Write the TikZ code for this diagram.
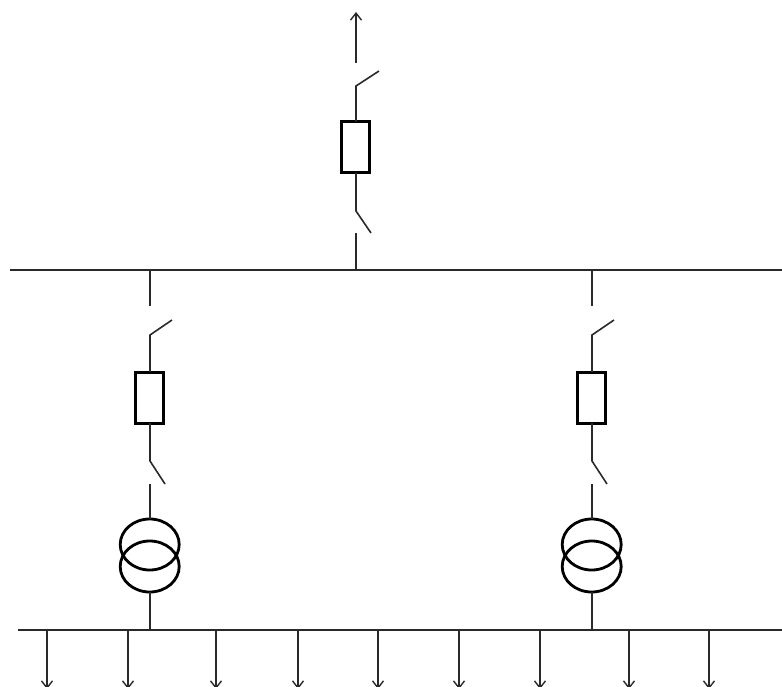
\documentclass[tikz,border=0pt]{standalone}
\usetikzlibrary{arrows.meta,shapes.geometric}
\definecolor{wire}{HTML}{2A2A2A}
\tikzset{
  x=1pt,y=-1pt,
  wireline/.style={draw=wire,line width=1.6pt},
  feeder/.style={wireline,-{Straight Barb[length=7pt,width=11pt,line width=1.4pt]}},
  breaker/.style={draw=black,line width=3pt,fill=white,rectangle,minimum width=28pt,minimum height=51pt,inner sep=0pt,outer sep=0pt},
  coil/.style={draw=black,line width=2.8pt,ellipse,minimum width=59pt,minimum height=51pt,inner sep=0pt,outer sep=0pt}
}
\begin{document}
\begin{tikzpicture}
\useasboundingbox (0,0) rectangle (782,686);
\clip (0,0) rectangle (782,686);
% busbars
\coordinate (busAw) at (10,270); \coordinate (busAe) at (782,270);
\coordinate (busBw) at (18,630); \coordinate (busBe) at (782,630);
\draw[wireline] (busAw) -- (busAe);
\draw[wireline] (busBw) -- (busBe);
% top feeder
\coordinate (tA) at (356,270); \coordinate (tB) at (356,233);
\coordinate (tC) at (356,211); \coordinate (tCb) at (371,233);
\coordinate (tD) at (356,86);  \coordinate (tDb) at (379,71);
\coordinate (tE) at (356,63);  \coordinate (tF) at (356,12);
\node[breaker] (brT) at (355.5,147) {};
\draw[wireline] (tA) -- (tB);
\draw[wireline] (tCb) -- (tC) -- (brT.south -| tC);
\draw[wireline] (brT.north -| tD) -- (tD) -- (tDb);
\draw[feeder] (tE) -- (tF);
% left bay
\coordinate (lA) at (150,270); \coordinate (lB) at (150,306);
\coordinate (lC) at (150,335); \coordinate (lCb) at (172,320);
\coordinate (lD) at (150,461); \coordinate (lDb) at (165,484);
\coordinate (lE) at (150,484); \coordinate (lF) at (150,630);
\node[breaker] (brL) at (149,397.5) {};
\node[coil] (coL1) at (149.7,544.5) {};
\node[coil] (coL2) at (149.7,566.5) {};
\draw[wireline] (lA) -- (lB);
\draw[wireline] (lCb) -- (lC) -- (brL.north -| lC);
\draw[wireline] (brL.south -| lD) -- (lD) -- (lDb);
\draw[wireline] (lE) -- (coL1.north -| lE);
\draw[wireline] (coL2.south -| lF) -- (lF);
% right bay
\coordinate (rA) at (592,270); \coordinate (rB) at (592,306);
\coordinate (rC) at (592,335); \coordinate (rCb) at (614,320);
\coordinate (rD) at (592,461); \coordinate (rDb) at (607,484);
\coordinate (rE) at (592,484); \coordinate (rF) at (592,630);
\node[breaker] (brR) at (591,397.5) {};
\node[coil] (coR1) at (591.7,544.5) {};
\node[coil] (coR2) at (591.7,566.5) {};
\draw[wireline] (rA) -- (rB);
\draw[wireline] (rCb) -- (rC) -- (brR.north -| rC);
\draw[wireline] (brR.south -| rD) -- (rD) -- (rDb);
\draw[wireline] (rE) -- (coR1.north -| rE);
\draw[wireline] (coR2.south -| rF) -- (rF);
% outgoing feeders
\foreach \n/\xx in {a/47,b/128,c/216,d/298,e/378,f/459,g/540,h/629,i/709}{
  \coordinate (o\n) at (\xx,630);
  \coordinate (p\n) at (\xx,689);
  \draw[feeder] (o\n) -- (p\n);
}
\end{tikzpicture}
\end{document}
